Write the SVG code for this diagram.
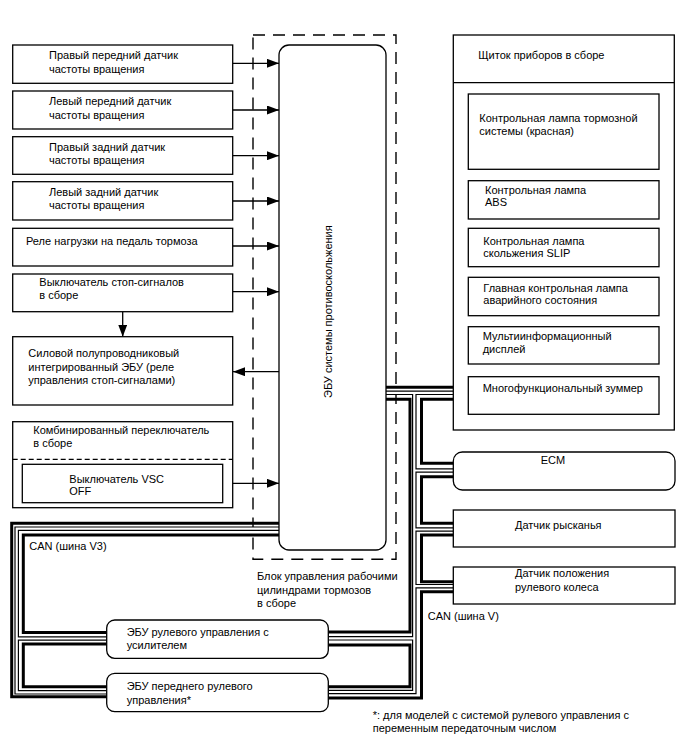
<svg xmlns="http://www.w3.org/2000/svg" width="688" height="755" viewBox="0 0 688 755">
<style>
.box{fill:#fff;stroke:#000;stroke-width:1.3}
.t{font-family:"Liberation Sans",Arial,sans-serif;font-size:11px;fill:#000}
.thick{fill:none;stroke:#000;stroke-width:3;stroke-linejoin:miter}
.hb{fill:none;stroke:#000;stroke-width:4.6}
.hw{fill:none;stroke:#fff;stroke-width:2.2}
.arr{fill:none;stroke:#000;stroke-width:1.3;marker-end:url(#ah)}
.dash{fill:none;stroke:#000;stroke-width:1.4;stroke-dasharray:12 8}
</style>
<defs>
<marker id="ah" markerWidth="12" markerHeight="9" refX="12" refY="4.5" orient="auto" markerUnits="userSpaceOnUse"><path d="M0,0 L12,4.5 L0,9 z" fill="#000"/></marker>
</defs>
<rect width="688" height="755" fill="#fff"/>

<g id="brake-actuator-assembly">
<rect class="dash" x="253" y="35" width="143" height="524.3"/>
<text class="t" x="257" y="580">Блок управления рабочими</text>
<text class="t" x="257" y="593.5">цилиндрами тормозов</text>
<text class="t" x="257" y="606.5">в сборе</text>
</g>

<g id="connectors">
<line class="arr" x1="233" y1="63.3" x2="279" y2="63.3"/>
<line class="arr" x1="233" y1="110" x2="279" y2="110"/>
<line class="arr" x1="233" y1="155.7" x2="279" y2="155.7"/>
<line class="arr" x1="233" y1="201" x2="279" y2="201"/>
<line class="arr" x1="233" y1="246" x2="279" y2="246"/>
<line class="arr" x1="233" y1="291.7" x2="279" y2="291.7"/>
<line class="arr" x1="122.7" y1="311.7" x2="122.7" y2="336.7"/>
<line class="arr" x1="279" y1="371.7" x2="233" y2="371.7"/>
<line class="arr" x1="222.7" y1="483.3" x2="279" y2="483.3"/>

<!-- CAN V thick wire segments -->
<path class="thick" d="M386,387.3 H453.3"/>
<path class="thick" d="M453.3,399.3 H421.5 V463.3 H453.3"/>
<path class="thick" d="M453.3,476.7 H421.5 V523.3 H453.3"/>
<path class="thick" d="M453.3,535 H421.5 V581.7 H453.3"/>
<path class="thick" d="M453.3,591.7 H421.5 V698 H328.3"/>
<path class="thick" d="M386,399.3 H410 V632 H328.3"/>
<path class="thick" d="M328.3,645 H410 V686.7 H328.3"/>
<!-- CAN V3 thick wire segments -->
<path class="thick" d="M279,523.3 H11.7 V696.7 H106.7"/>
<path class="thick" d="M279,535 H23.3 V632.5 H106.7"/>
<path class="thick" d="M106.7,644 H23.3 V686.7 H106.7"/>

<!-- hollow wire: black underlay -->
<path class="hb" d="M386,392.8 H453.3"/>
<path class="hb" d="M414.3,392.8 V692 H328.3"/>
<path class="hb" d="M414.3,470.5 H453.3"/>
<path class="hb" d="M414.3,529.5 H453.3"/>
<path class="hb" d="M414.3,586.2 H453.3"/>
<path class="hb" d="M414.3,638.3 H328.3"/>
<path class="hb" d="M279,528.7 H16.7 V692.3 H106.7"/>
<path class="hb" d="M16.7,638.5 H106.7"/>
<!-- hollow wire: white core -->
<path class="hw" d="M386,392.8 H453.3"/>
<path class="hw" d="M414.3,392.8 V692 H328.3"/>
<path class="hw" d="M414.3,470.5 H453.3"/>
<path class="hw" d="M414.3,529.5 H453.3"/>
<path class="hw" d="M414.3,586.2 H453.3"/>
<path class="hw" d="M414.3,638.3 H328.3"/>
<path class="hw" d="M279,528.7 H16.7 V692.3 H106.7"/>
<path class="hw" d="M16.7,638.5 H106.7"/>

<text class="t" x="29.3" y="549.5">CAN (шина V3)</text>
<text class="t" x="427.7" y="620">CAN (шина V)</text>
</g>

<g id="abs-ecu">
<rect class="box" x="279" y="45" width="107" height="505" rx="10" ry="10"/>
<text class="t" transform="translate(331.5,398) rotate(-90)">ЭБУ системы противоскольжения</text>
</g>

<g id="fr-speed-sensor">
<rect class="box" x="12.7" y="45" width="220" height="38.3"/>
<text class="t" x="49" y="59">Правый передний датчик</text>
<text class="t" x="49" y="72.5">частоты вращения</text>
</g>
<g id="fl-speed-sensor">
<rect class="box" x="12.7" y="91" width="220" height="38"/>
<text class="t" x="49" y="105">Левый передний датчик</text>
<text class="t" x="49" y="118.5">частоты вращения</text>
</g>
<g id="rr-speed-sensor">
<rect class="box" x="12.7" y="136.7" width="220" height="37.6"/>
<text class="t" x="49" y="150.5">Правый задний датчик</text>
<text class="t" x="49" y="163.5">частоты вращения</text>
</g>
<g id="rl-speed-sensor">
<rect class="box" x="12.7" y="181.7" width="220" height="38.3"/>
<text class="t" x="49" y="195.5">Левый задний датчик</text>
<text class="t" x="49" y="209">частоты вращения</text>
</g>
<g id="brake-pedal-relay">
<rect class="box" x="12.7" y="228.3" width="220" height="37.7"/>
<text class="t" x="26" y="245">Реле нагрузки на педаль тормоза</text>
</g>
<g id="stop-light-switch">
<rect class="box" x="12.7" y="274" width="220" height="37.7"/>
<text class="t" x="39.3" y="285.5">Выключатель стоп-сигналов</text>
<text class="t" x="39.3" y="298.5">в сборе</text>
</g>
<g id="power-semiconductor-ecu">
<rect class="box" x="12.7" y="336.7" width="220" height="68.3"/>
<text class="t" x="28.3" y="357">Силовой полупроводниковый</text>
<text class="t" x="28.3" y="370.5">интегрированный ЭБУ (реле</text>
<text class="t" x="28.3" y="384">управления стоп-сигналами)</text>
</g>
<g id="combination-switch">
<rect class="box" x="12.7" y="421.7" width="220" height="86"/>
<text class="t" x="33.3" y="434">Комбинированный переключатель</text>
<text class="t" x="33.3" y="446.5">в сборе</text>
<line x1="12.7" y1="459.3" x2="232.7" y2="459.3" stroke="#000" stroke-width="1.2" stroke-dasharray="5 3"/>
</g>
<g id="vsc-off-switch">
<rect class="box" x="22.3" y="464.3" width="200.4" height="38.4"/>
<text class="t" x="69.3" y="483">Выключатель VSC</text>
<text class="t" x="69.3" y="495">OFF</text>
</g>

<g id="eps-ecu">
<rect class="box" x="106.7" y="620" width="221.6" height="38.3" rx="8" ry="8"/>
<text class="t" x="126.7" y="635.5">ЭБУ рулевого управления с</text>
<text class="t" x="126.7" y="648.5">усилителем</text>
</g>
<g id="front-steering-ecu">
<rect class="box" x="106.7" y="673.3" width="221.6" height="38.4" rx="8" ry="8"/>
<text class="t" x="126.7" y="690">ЭБУ переднего рулевого</text>
<text class="t" x="126.7" y="704">управления*</text>
</g>

<g id="combination-meter">
<rect class="box" x="453.3" y="35" width="221" height="395"/>
<line x1="453.3" y1="82.7" x2="674.3" y2="82.7" stroke="#000" stroke-width="1.3"/>
<text class="t" x="478.3" y="59.3">Щиток приборов в сборе</text>
</g>
<g id="brake-warning-lamp">
<rect class="box" x="468.3" y="94" width="190.7" height="75.3"/>
<text class="t" x="479.3" y="122">Контрольная лампа тормозной</text>
<text class="t" x="479.3" y="134.5">системы (красная)</text>
</g>
<g id="abs-lamp">
<rect class="box" x="468.3" y="180.7" width="190.7" height="38.3"/>
<text class="t" x="485" y="194">Контрольная лампа</text>
<text class="t" x="485" y="206">ABS</text>
</g>
<g id="slip-lamp">
<rect class="box" x="468.3" y="228.3" width="190.7" height="38.4"/>
<text class="t" x="483.3" y="244.5">Контрольная лампа</text>
<text class="t" x="483.3" y="256.5">скольжения SLIP</text>
</g>
<g id="master-warning-lamp">
<rect class="box" x="468.3" y="277.3" width="190.7" height="38.4"/>
<text class="t" x="483.3" y="291.5">Главная контрольная лампа</text>
<text class="t" x="483.3" y="304">аварийного состояния</text>
</g>
<g id="multi-info-display">
<rect class="box" x="468.3" y="326.7" width="190.7" height="37.3"/>
<text class="t" x="482.7" y="340">Мультиинформационный</text>
<text class="t" x="482.7" y="352.5">дисплей</text>
</g>
<g id="buzzer">
<rect class="box" x="468.3" y="376.7" width="190.7" height="37.6"/>
<text class="t" x="482.7" y="391.5">Многофункциональный зуммер</text>
</g>

<g id="ecm">
<rect class="box" x="453.3" y="452" width="221.7" height="38" rx="9" ry="9"/>
<text class="t" x="553" y="464" text-anchor="middle">ECM</text>
</g>
<g id="yaw-rate-sensor">
<rect class="box" x="453.3" y="510" width="221.7" height="37"/>
<text class="t" x="515" y="528.5">Датчик рысканья</text>
</g>
<g id="steering-angle-sensor">
<rect class="box" x="453.3" y="567" width="221.7" height="37"/>
<text class="t" x="515" y="577">Датчик положения</text>
<text class="t" x="515" y="590.5">рулевого колеса</text>
</g>

<g id="footnote">
<text class="t" x="372.7" y="718.5">*: для моделей с системой рулевого управления с</text>
<text class="t" x="372.7" y="732">переменным передаточным числом</text>
</g>
</svg>
